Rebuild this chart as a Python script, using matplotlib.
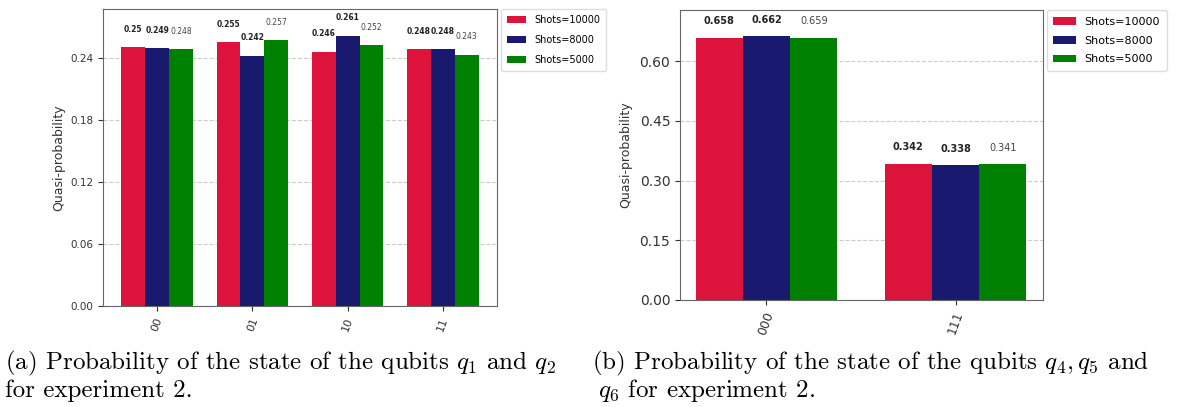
import matplotlib.pyplot as plt
import numpy as np

# data
shots = ["Shots=10000", "Shots=8000", "Shots=5000"]
colors = ["#DC143C", "#191970", "#008000"]

states_a = ["00", "01", "10", "11"]
probs_a = [
    [0.250, 0.255, 0.246, 0.248],  # shots=10000
    [0.249, 0.242, 0.261, 0.248],  # shots=8000
    [0.248, 0.257, 0.252, 0.243],  # shots=5000
]
labels_a = [
    ["0.25", "0.255", "0.246", "0.248"],
    ["0.249", "0.242", "0.261", "0.248"],
    ["0.248", "0.257", "0.252", "0.243"],
]
yticks_a = [0.00, 0.06, 0.12, 0.18, 0.24]

states_b = ["000", "111"]
probs_b = [
    [0.658, 0.342],
    [0.662, 0.338],
    [0.659, 0.341],
]
yticks_b = [0.00, 0.15, 0.30, 0.45, 0.60]

caption_a = ["(a) Probability of the state of the qubits $q_1$ and $q_2$",
             "for experiment 2."]
caption_b = ["(b) Probability of the state of the qubits $q_4, q_5$ and",
             "$q_6$ for experiment 2."]

plt.rcParams["mathtext.fontset"] = "cm"


def draw_hist(ax, states, probs, labels, yticks, xlim, fs, label_off, leg_fs, leg_sp):
    x = np.arange(len(states))
    width = 0.25
    for i, vals in enumerate(probs):
        pos = x + (i - 1) * width
        ax.bar(pos, vals, width, color=colors[i], label=shots[i], zorder=2)
        for j, v in enumerate(vals):
            txt = labels[i][j] if labels is not None else f"{v:.3f}"
            ax.annotate(txt, (pos[j], v), xytext=(0, label_off),
                        textcoords="offset points", ha="center", va="center",
                        fontsize=fs, fontweight="bold" if i < 2 else "normal",
                        color="#222222" if i < 2 else "#444444")
    ymax = max(max(v) for v in probs) * 1.1
    ax.set_ylim(0, ymax)
    ax.set_xlim(*xlim)
    ax.set_yticks(yticks)
    ax.set_yticklabels([f"{t:.2f}" for t in yticks])
    ax.set_xticks(x)
    ax.set_xticklabels(states, rotation=70)
    ax.yaxis.grid(True, linestyle="--", color="#cccccc", linewidth=0.8, zorder=0)
    ax.set_axisbelow(True)
    for s in ax.spines.values():
        s.set_color("#666666")
    ax.tick_params(colors="#333333", labelcolor="#333333")
    leg = ax.legend(loc="upper left", bbox_to_anchor=(1.01, 1.0), fontsize=leg_fs,
                    handlelength=2.0, handleheight=0.7, handletextpad=0.8,
                    labelspacing=leg_sp, borderpad=0.6, borderaxespad=0.0,
                    framealpha=1.0)
    leg.get_frame().set_edgecolor("#dddddd")


fig = plt.figure(figsize=(11.81, 4.07), dpi=100)

ax_a = fig.add_axes([0.0872, 0.247, 0.3336, 0.731])
draw_hist(ax_a, states_a, probs_a, labels_a, yticks_a, (-0.568, 3.568), 5.5, 13, 7, 1.05)
ax_a.tick_params(axis="y", labelsize=7.5)
ax_a.tick_params(axis="x", labelsize=8)
ax_a.set_ylabel("Quasi-probability", fontsize=9, color="#333333")
ax_a.yaxis.set_label_coords(-0.096, 0.5)

ax_b = fig.add_axes([0.5758, 0.2629, 0.3074, 0.7125])
draw_hist(ax_b, states_b, probs_b, None, yticks_b, (-0.457, 1.463), 7, 12, 8, 0.8)
ax_b.tick_params(axis="y", labelsize=10)
ax_b.tick_params(axis="x", labelsize=9)
ax_b.set_ylabel("Quasi-probability", fontsize=9, color="#333333")
ax_b.yaxis.set_label_coords(-0.132, 0.5)

# captions under the two panels
cap_kw = dict(fontsize=18, family="cmr10", va="baseline")
fig.text(5 / 1181, 1 - 369 / 407, caption_a[0], **cap_kw)
fig.text(5 / 1181, 1 - 397 / 407, caption_a[1], **cap_kw)
fig.text(592 / 1181, 1 - 369 / 407, caption_b[0], **cap_kw)
fig.text(598 / 1181, 1 - 397 / 407, caption_b[1], **cap_kw)

fig.savefig("out.png", dpi=100)
